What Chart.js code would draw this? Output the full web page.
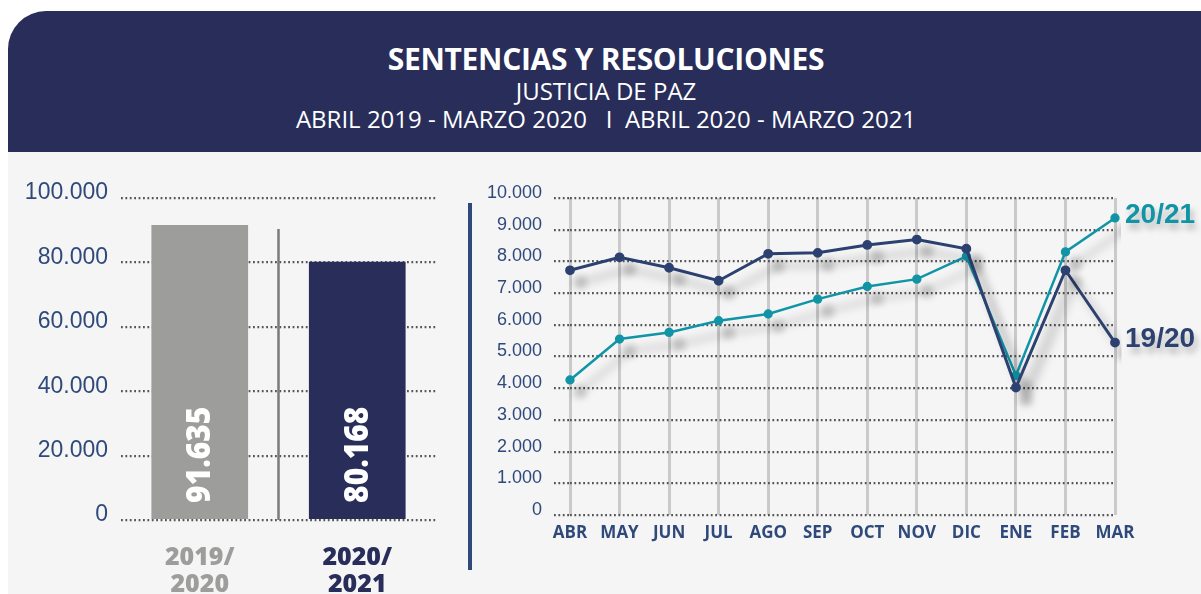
<!DOCTYPE html>
<html>
<head>
<meta charset="utf-8">
<script src="https://cdn.jsdelivr.net/npm/chart.js@4.4.1/dist/chart.umd.min.js"></script>
<style>
  html, body { margin: 0; padding: 0; background: #ffffff; }
  body { width: 1201px; height: 594px; position: relative; overflow: hidden; font-family: "Open Sans", sans-serif; }
  .header {
    position: absolute; left: 8px; top: 11px; width: 1240px; height: 141px;
    background: #282d5a; border-radius: 38px 38px 0 0;
  }
  .panel { position: absolute; left: 8px; top: 152px; width: 1193px; height: 442px; background: #f5f5f5; }
  .txt { position: absolute; left: 0; width: 1212px; text-align: center; color: #ffffff; white-space: nowrap; line-height: normal; }
  .title { top: 38px; font-size: 30px; font-weight: 700; letter-spacing: -0.3px; }
  .sub1 { top: 74px; font-size: 24px; letter-spacing: 0; }
  .sub2 { top: 102px; font-size: 24px; letter-spacing: 0; }
  .divider { position: absolute; left: 468px; top: 203px; width: 4px; height: 367px; background: #2f4a7a; }
  #barWrap { position: absolute; left: 0; top: 160px; width: 460px; height: 434px; }
  #lineWrap { position: absolute; left: 470px; top: 160px; width: 731px; height: 434px; }
</style>
</head>
<body>
<div class="header"></div>
<div class="panel"></div>
<div class="txt title">SENTENCIAS Y RESOLUCIONES</div>
<div class="txt sub1">JUSTICIA DE PAZ</div>
<div class="txt sub2">ABRIL 2019 - MARZO 2020 &nbsp; I &nbsp;ABRIL 2020 - MARZO 2021</div>
<div class="divider"></div>
<div id="barWrap"><canvas id="barChart"></canvas></div>
<div id="lineWrap"><canvas id="lineChart"></canvas></div>

<script>
// --- data ---
const periods = [["2019/", "2020"], ["2020/", "2021"]];
const periodTotals = [91635, 80168];
const periodColors = ["#9d9d9c", "#282d5a"];

const months = ["ABR", "MAY", "JUN", "JUL", "AGO", "SEP", "OCT", "NOV", "DIC", "ENE", "FEB", "MAR"];
const serie1920 = [7720, 8130, 7800, 7390, 8240, 8270, 8520, 8690, 8400, 4020, 7720, 5440];
const serie2021 = [4260, 5550, 5760, 6130, 6340, 6810, 7210, 7440, 8160, 4400, 8300, 9370];
const serieNames = ["19/20", "20/21"];

const NAVY = "#2c4170";
const TEAL = "#1094a6";
const AXIS_TXT = "#2f4a7a";
const DOTS = [1.8, 2.6];

const fmt = (v) => String(v).replace(/\B(?=(\d{3})+(?!\d))/g, ".");

// --- bar chart: totals ---
const barLabels = {
    id: "barLabels",
    afterDatasetsDraw(chart) {
        const ctx = chart.ctx;
        const bars = chart.getDatasetMeta(0).data;
        // separator between the two bars
        ctx.save();
        ctx.strokeStyle = "#7a7a7a";
        ctx.lineWidth = 2.5;
        ctx.beginPath();
        let sx = (bars[0].x + bars[1].x) / 2;
        ctx.moveTo(sx, bars[0].y + 4);
        ctx.lineTo(sx, bars[0].base + 1);
        ctx.stroke();
        ctx.restore();
        // rotated values inside bars
        bars.forEach((bar, i) => {
            ctx.save();
            ctx.translate(bar.x, bar.base - 16);
            ctx.rotate(-Math.PI / 2);
            ctx.scale(0.88, 1);
            ctx.fillStyle = "#ffffff";
            ctx.font = "800 34px 'Open Sans'";
            ctx.textAlign = "left";
            ctx.textBaseline = "middle";
            ctx.fillText(fmt(periodTotals[i]), 0, 1);
            ctx.restore();
        });
    }
};

new Chart(document.getElementById("barChart").getContext("2d"), {
    type: "bar",
    data: {
        labels: periods,
        datasets: [{
            data: periodTotals,
            backgroundColor: periodColors,
            borderWidth: 0,
            categoryPercentage: 1,
            barPercentage: 0.614,
        }]
    },
    options: {
        responsive: true,
        maintainAspectRatio: false,
        animation: false,
        layout: { padding: { top: 38, right: 24, left: 0, bottom: 0 } },
        plugins: { legend: { display: false }, tooltip: { enabled: false } },
        scales: {
            x: {
                afterFit: (s) => { s.height = 74; },
                grid: { display: false },
                border: { display: false },
                ticks: {
                    padding: 16,
                    color: (c) => periodColors[c.index],
                    font: { family: "'Open Sans'", size: 25, weight: "800", lineHeight: 1.1 },
                }
            },
            y: {
                min: 0,
                max: 100000,
                afterFit: (s) => { s.width = 121; },
                border: { display: false, dash: DOTS },
                grid: {
                    color: "#555555",
                    lineWidth: 2.2,
                    drawTicks: false,
                },
                ticks: {
                    stepSize: 20000,
                    padding: 13,
                    labelOffset: -5,
                    color: AXIS_TXT,
                    font: { family: "'Liberation Sans'", size: 23 },
                    callback: (v) => fmt(v),
                }
            }
        }
    },
    plugins: [barLabels]
});

// --- line chart: monthly ---
const lineShadow = {
    id: "lineShadow",
    beforeDatasetDraw(chart) {
        const ctx = chart.ctx;
        ctx.save();
        ctx.shadowColor = "rgba(0,0,0,0.3)";
        ctx.shadowBlur = 10;
        ctx.shadowOffsetX = 10;
        ctx.shadowOffsetY = 12;
    },
    afterDatasetDraw(chart) {
        chart.ctx.restore();
    }
};

const endLabels = {
    id: "endLabels",
    afterDatasetsDraw(chart) {
        const ctx = chart.ctx;
        chart.data.datasets.forEach((ds, i) => {
            const pts = chart.getDatasetMeta(i).data;
            const last = pts[pts.length - 1];
            ctx.save();
            ctx.shadowColor = "rgba(0,0,0,0.25)";
            ctx.shadowBlur = 6;
            ctx.shadowOffsetX = 3;
            ctx.shadowOffsetY = 6;
            ctx.fillStyle = ds.borderColor;
            ctx.font = "bold 28px 'Liberation Sans'";
            ctx.textAlign = "left";
            ctx.textBaseline = "middle";
            ctx.fillText(ds.label, last.x + 10, last.y - 3);
            ctx.restore();
        });
    }
};

new Chart(document.getElementById("lineChart").getContext("2d"), {
    type: "line",
    data: {
        labels: months,
        datasets: [{
            label: serieNames[0],
            data: serie1920,
            borderColor: NAVY,
            backgroundColor: NAVY,
            borderWidth: 3,
            pointRadius: 3.4,
            pointHoverRadius: 3.4,
            tension: 0,
        },
        {
            label: serieNames[1],
            data: serie2021,
            borderColor: TEAL,
            backgroundColor: TEAL,
            borderWidth: 2.5,
            pointRadius: 3.4,
            pointHoverRadius: 3.4,
            tension: 0,
        }]
    },
    options: {
        responsive: true,
        maintainAspectRatio: false,
        animation: false,
        layout: { padding: { top: 38, right: 86, left: 0, bottom: 0 } },
        plugins: { legend: { display: false }, tooltip: { enabled: false } },
        scales: {
            x: {
                offset: false,
                afterFit: (s) => { s.height = 79; },
                border: { display: false },
                grid: {
                    color: "#cacaca",
                    lineWidth: 3,
                    drawTicks: false,
                },
                ticks: {
                    padding: 8,
                    color: AXIS_TXT,
                    maxRotation: 0,
                    autoSkip: false,
                    font: { family: "'Open Sans'", size: 17, weight: "bold" },
                }
            },
            y: {
                min: 0,
                max: 10000,
                afterFit: (s) => { s.width = 100; },
                border: { display: false, dash: DOTS },
                grid: {
                    color: "#555555",
                    lineWidth: 2.2,
                    drawTicks: true,
                    tickLength: 16,
                    tickColor: "#555555",
                    tickBorderDash: DOTS,
                },
                ticks: {
                    stepSize: 1000,
                    padding: 12,
                    labelOffset: -5,
                    color: AXIS_TXT,
                    font: { family: "'Liberation Sans'", size: 18 },
                    callback: (v) => fmt(v),
                }
            }
        }
    },
    plugins: [lineShadow, endLabels]
});
</script>
</body>
</html>
